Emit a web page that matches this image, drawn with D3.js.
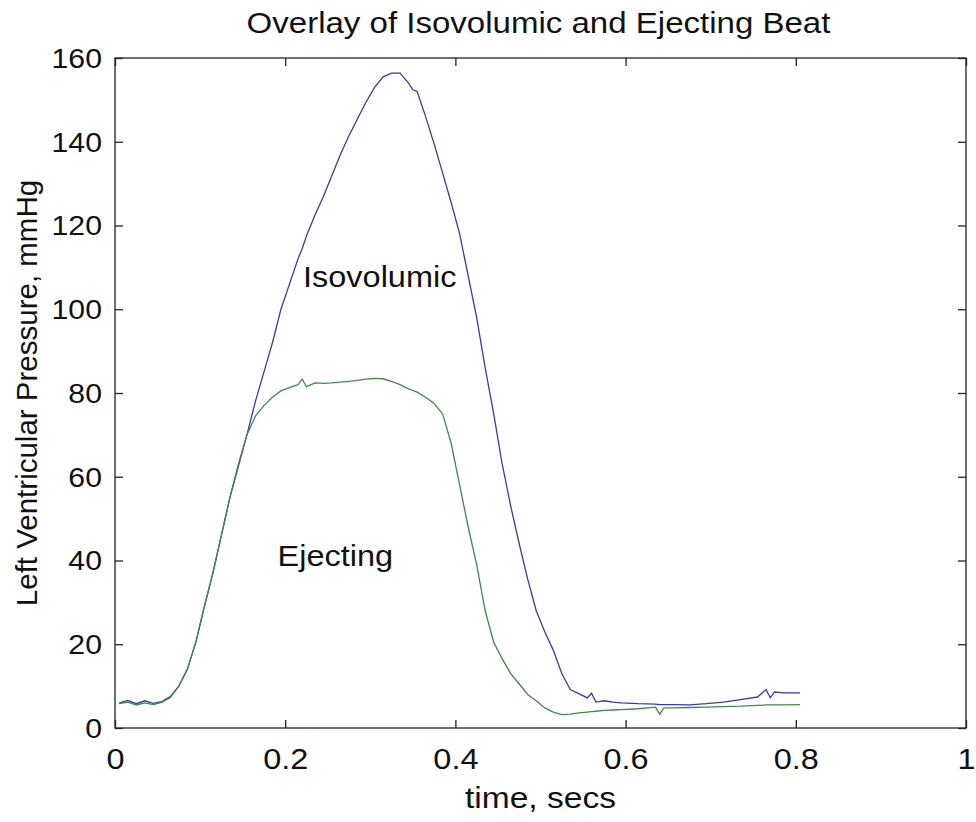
<!DOCTYPE html>
<html>
<head>
<meta charset="utf-8">
<script src="https://cdn.jsdelivr.net/npm/d3@7"></script>
<style>
  body { margin: 0; background: #fff; }
  text { font-family: "Liberation Sans", Arial, sans-serif; fill: #111; }
</style>
</head>
<body>
<svg id="chart" width="976" height="822"></svg>
<script>
// time samples, secs
const time = [
  0.005, 0.015, 0.025, 0.035, 0.045, 0.055, 0.065, 0.075, 0.085, 0.095,
  0.105, 0.115, 0.125, 0.135, 0.145, 0.155, 0.165, 0.175, 0.185, 0.195,
  0.205, 0.215, 0.220, 0.225, 0.235, 0.245, 0.255, 0.265, 0.275, 0.285,
  0.295, 0.305, 0.315, 0.325, 0.335, 0.345, 0.350, 0.355, 0.365, 0.375,
  0.385, 0.395, 0.405, 0.415, 0.425, 0.435, 0.445, 0.455, 0.465, 0.475,
  0.485, 0.495, 0.505, 0.515, 0.525, 0.535, 0.545, 0.555, 0.560, 0.565,
  0.575, 0.585, 0.595, 0.615, 0.635, 0.640, 0.645, 0.655, 0.675, 0.695,
  0.715, 0.735, 0.755, 0.765, 0.770, 0.775, 0.785, 0.805
]

// pressure, mmHg
const isovolumic = [
  6.0, 6.6, 5.8, 6.5, 5.9, 6.3, 7.5, 10.0, 14.0, 20.5,
  29.0, 37.0, 46.0, 55.0, 62.5, 70.0, 78.0, 85.0, 92.0, 100.0,
  106.0, 112.0, 114.5, 117.5, 122.5, 127.0, 132.0, 137.0, 141.5, 145.5,
  149.5, 153.0, 155.5, 156.4, 156.4, 154.0, 152.4, 152.0, 146.0, 139.5,
  132.5, 125.5, 118.0, 108.0, 98.0, 86.0, 75.0, 63.0, 53.0, 44.0,
  35.5, 28.0, 23.0, 18.6, 13.0, 9.2, 8.2, 7.2, 8.3, 6.2,
  6.5, 6.2, 6.0, 5.8, 5.7, 5.6, 5.6, 5.6, 5.5, 5.8,
  6.2, 6.8, 7.4, 9.2, 7.2, 8.6, 8.4, 8.4
]

const ejecting = [
  5.8, 6.2, 5.5, 6.0, 5.6, 6.1, 7.3, 10.0, 14.0, 20.5,
  29.0, 37.0, 46.0, 55.0, 63.0, 70.0, 74.5, 77.0, 79.0, 80.5,
  81.3, 82.0, 83.3, 81.5, 82.4, 82.3, 82.4, 82.6, 82.8, 83.0,
  83.3, 83.5, 83.4, 82.8, 82.0, 81.0, 80.6, 80.2, 79.0, 77.5,
  75.0, 68.0, 58.0, 48.0, 39.0, 28.0, 20.5, 16.5, 13.0, 10.5,
  8.0, 6.5, 4.8, 3.8, 3.2, 3.3, 3.6, 3.8, 3.9, 4.0,
  4.2, 4.3, 4.4, 4.6, 5.0, 3.3, 4.8, 4.8, 4.9, 5.0,
  5.1, 5.2, 5.4, 5.5, 5.5, 5.5, 5.5, 5.6
]

const xTicks = [0, 0.2, 0.4, 0.6, 0.8, 1]
const yTicks = [0, 20, 40, 60, 80, 100, 120, 140, 160]

const stretch = "scale(1.12,1)"
const svg = d3.select("#chart")

const x = d3.scaleLinear().domain([0, 1]).range([115, 966])
const y = d3.scaleLinear().domain([0, 160]).range([728, 58])

// box
svg.append("rect")
  .attr("x", x(0)).attr("y", y(160))
  .attr("width", x(1) - x(0)).attr("height", y(0) - y(160))
  .attr("fill", "none").attr("stroke", "#222").attr("stroke-width", 1.3)

// ticks, inward on every side
const tickLen = 8
svg.append("g").attr("transform", `translate(0,${y(0)})`)
  .call(d3.axisBottom(x).tickValues(xTicks).tickSizeInner(-tickLen).tickSizeOuter(0).tickFormat(d3.format("")))
  .call(g => g.select(".domain").remove())
  .call(g => g.selectAll("text")
    .attr("y", 0).attr("dy", null)
    .attr("transform", "translate(0,41) " + stretch)
    .style("font-size", "29px"))

svg.append("g").attr("transform", `translate(0,${y(160)})`)
  .call(d3.axisTop(x).tickValues(xTicks).tickSizeInner(-tickLen).tickSizeOuter(0).tickFormat(""))
  .call(g => g.select(".domain").remove())

svg.append("g").attr("transform", `translate(${x(0)},0)`)
  .call(d3.axisLeft(y).tickValues(yTicks).tickSizeInner(-tickLen).tickSizeOuter(0))
  .call(g => g.select(".domain").remove())
  .call(g => g.selectAll("text")
    .attr("x", 0).attr("dy", "0.35em")
    .attr("transform", "translate(-13,0) " + stretch)
    .style("font-size", "27px"))

svg.append("g").attr("transform", `translate(${x(1)},0)`)
  .call(d3.axisRight(y).tickValues(yTicks).tickSizeInner(-tickLen).tickSizeOuter(0).tickFormat(""))
  .call(g => g.select(".domain").remove())

svg.selectAll(".tick line").attr("stroke", "#222").attr("stroke-width", 1.3)

// curves
const line = d3.line()
  .x((d, i) => x(time[i]))
  .y(d => y(d))

svg.append("path")
  .datum(isovolumic)
  .attr("d", line)
  .attr("fill", "none")
  .attr("stroke", "#3a3aa8")
  .attr("stroke-width", 1.3)

svg.append("path")
  .datum(ejecting)
  .attr("d", line)
  .attr("fill", "none")
  .attr("stroke", "#3d8a4c")
  .attr("stroke-width", 1.3)

// annotations
svg.append("text")
  .attr("transform", `translate(${x(0.221)},${y(105.3)}) ${stretch}`)
  .style("font-size", "29px")
  .text("Isovolumic")

svg.append("text")
  .attr("transform", `translate(${x(0.191)},${y(38.6)}) ${stretch}`)
  .style("font-size", "29px")
  .text("Ejecting")

// title and axis labels
svg.append("text")
  .attr("transform", `translate(${(x(0) + x(1)) / 2 - 2},33) ${stretch}`)
  .attr("text-anchor", "middle")
  .style("font-size", "29.5px")
  .text("Overlay of Isovolumic and Ejecting Beat")

svg.append("text")
  .attr("transform", `translate(${(x(0) + x(1)) / 2},808) ${stretch}`)
  .attr("text-anchor", "middle")
  .style("font-size", "30px")
  .text("time, secs")

svg.append("text")
  .attr("transform", `translate(37,${(y(0) + y(160)) / 2}) rotate(-90)`)
  .attr("text-anchor", "middle")
  .style("font-size", "29.5px")
  .text("Left Ventricular Pressure, mmHg")
</script>
</body>
</html>
